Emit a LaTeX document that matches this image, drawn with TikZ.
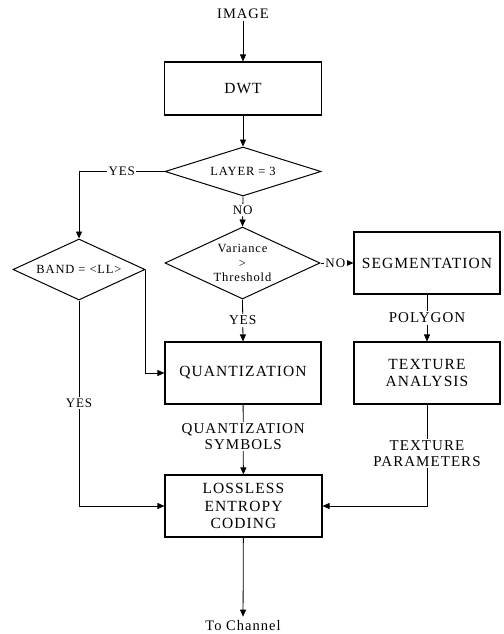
\documentclass[tikz,border=0pt]{standalone}
\usepackage{fontspec}
\setmainfont[LetterSpace=7]{Liberation Serif}
\usetikzlibrary{shapes.geometric,arrows.meta}
\begin{document}
\begin{tikzpicture}[x=1pt,y=-1pt,
  box/.style={draw, line width=1.1pt, inner sep=0pt, align=center, font=\fontsize{15.5}{17.5}\selectfont},
  dia/.style={draw, line width=1pt, diamond, shape aspect=2, inner sep=0pt, align=center, font=\fontsize{12.5}{14.5}\selectfont},
  lbl/.style={fill=white, inner sep=1.5pt, align=center, font=\fontsize{15}{16}\selectfont},
  slbl/.style={fill=white, inner sep=1.5pt, font=\fontsize{13}{14}\selectfont},
  txt/.style={inner sep=2pt, font=\fontsize{14.5}{16}\selectfont},
  arr/.style={line width=0.8pt, -{Triangle[length=7pt,width=6pt]}},
  ln/.style={line width=0.8pt}]
\useasboundingbox (0,0) rectangle (503,634);
\node[txt] (image) at (243,14) {IMAGE};
\node[box, minimum width=157pt, minimum height=53pt] (dwt) at (243,88.5) {DWT};
\node[dia, minimum width=156pt, minimum height=49pt] (layer) at (243,171.5) {LAYER = 3};
\node[dia, minimum width=155pt, minimum height=72pt] (var) at (242.5,263) {Variance\\>\\Threshold};
\node[box, minimum width=146pt, minimum height=62pt] (seg) at (427,263) {SEGMENTATION};
\node[box, minimum width=146pt, minimum height=62pt] (tex) at (427,373) {TEXTURE\\ANALYSIS};
\node[box, minimum width=156pt, minimum height=62pt] (quant) at (243,373) {QUANTIZATION};
\node[dia, minimum width=132pt, minimum height=61pt] (band) at (79,269.5) {BAND = <LL>};
\node[box, minimum width=157pt, minimum height=62pt] (loss) at (243.5,506) {LOSSLESS\\ENTROPY\\CODING};
\node[txt, inner sep=4pt] (chan) at (243,626) {To Channel};
\coordinate (yesturn) at (79,171.5);

\draw[arr] (image) -- (dwt);
\draw[arr] (dwt) -- (layer);
\draw[arr] (layer.west) -- node[slbl, pos=0.5] {YES} (yesturn) -- (band.north);
\draw[arr] (layer.south) -- node[slbl, pos=0.45] {NO} (var.north);
\draw[arr] (var.east) -- node[slbl, pos=0.45] {NO} (seg.west);
\draw[arr] (var.south) -- node[lbl, font=\fontsize{13.5}{15}\selectfont, pos=0.5] {YES} (quant.north);
\draw[arr] (band.east) |- (quant.west);
\draw[arr] (band.south) |- node[slbl, pos=0.25] {YES} (loss.west);
\draw[arr] (seg) -- node[lbl] {POLYGON} (tex);
\draw[arr] (quant) -- node[lbl, pos=0.46] {QUANTIZATION\\SYMBOLS} (loss);
\draw[arr] (tex.south) |- node[lbl, pos=0.24] {TEXTURE\\PARAMETERS} (loss.east);
\draw[arr] (loss) -- (chan);
\end{tikzpicture}
\end{document}
